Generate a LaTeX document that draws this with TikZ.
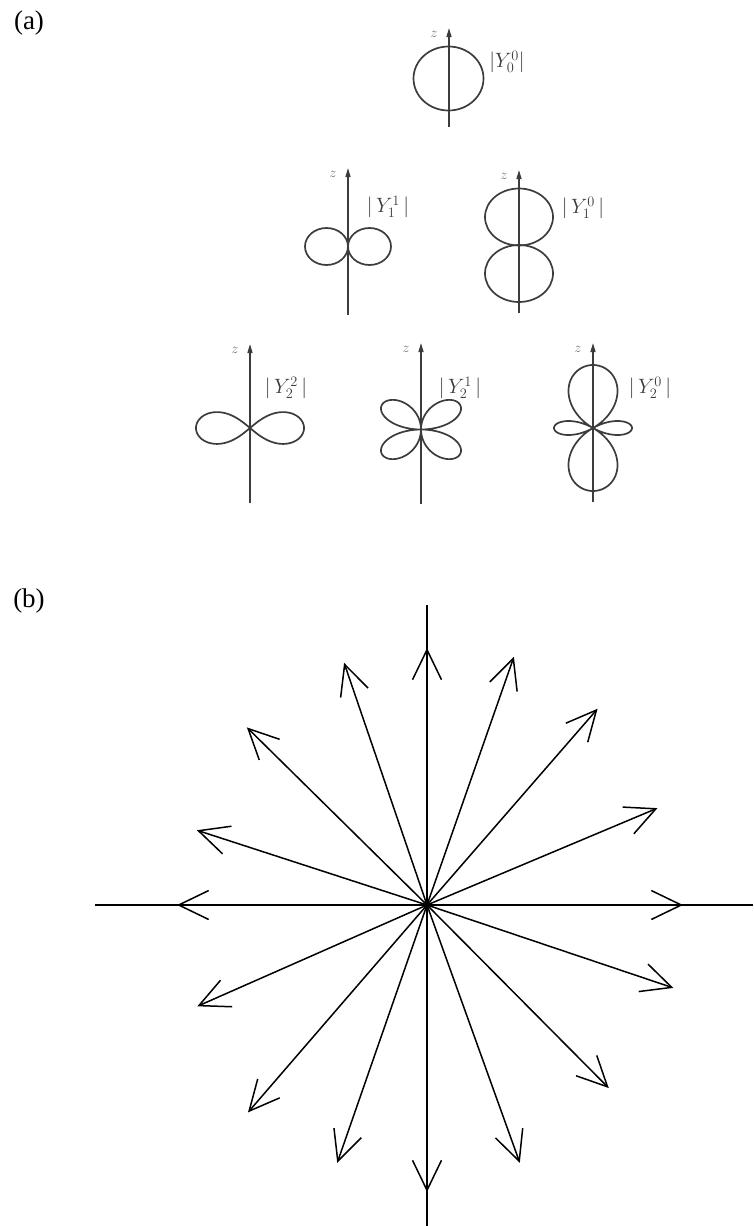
\documentclass[tikz,border=0pt]{standalone}
\usepackage{fontspec}
\setmainfont{Liberation Serif}
\usetikzlibrary{arrows.meta,calc}
\definecolor{scanink}{HTML}{3C3C3C}
\definecolor{scangrey}{HTML}{6A6A6A}

\begin{document}
\begin{tikzpicture}[x=1pt, y=1pt,
    zax/.style={-{Triangle[length=9pt,width=5pt]}, line width=1.4pt, draw=scanink},
    lobe/.style={line width=1.7pt, draw=scanink},
    zlbl/.style={font=\fontsize{14}{16}\selectfont, text=scangrey, inner sep=0pt},
    ylbl/.style={font=\fontsize{20}{24}\selectfont, text=scanink, inner sep=0pt},
    tag/.style={font=\fontsize{27}{31}\selectfont, inner sep=0pt},
    axline/.style={line width=1.7pt},
    ray/.style={-{Straight Barb[length=30pt,width=29pt]}, line width=1.5pt}]
  \useasboundingbox (0,0) rectangle (753,-1226);
  \node[tag] (ta) at (29,-23) {(a)};
  \foreach \name/\x/\top/\bot in {a00/449/28/127, a11/348/168/315, a10/519/170/313, a22/250/344/503, a21/421/343/504, a20/593/343/502}{
    \coordinate (\name-b) at (\x,-\bot);
    \coordinate (\name-t) at (\x,-\top);
    \draw[zax] (\name-b) -- (\name-t);
    \node[zlbl, xshift=-15pt, yshift=-6pt] (\name-z) at (\name-t) {$z$};
  }
  \draw[lobe] (448.5,-78.5) ellipse [x radius=35pt, y radius=32pt];
  \draw[lobe] (326.5,-246.5) ellipse [x radius=21.5pt, y radius=18.5pt];
  \draw[lobe] (369.5,-246.5) ellipse [x radius=21.5pt, y radius=18.5pt];
  \draw[lobe] (519,-217) ellipse [x radius=34pt, y radius=28.5pt];
  \draw[lobe] (519,-273.5) ellipse [x radius=34pt, y radius=28.5pt];
  \draw[lobe, shift={(250,-428)}] plot[variable=\t, domain=0:360, samples=181, smooth]
    ({54*cos(\t)/(1+sin(\t)^2)}, {45*sin(\t)*cos(\t)/(1+sin(\t)^2)});
  \draw[lobe, shift={(421,-429.5)}] plot[variable=\t, domain=0:360, samples=241, smooth]
    ({104*abs(sin(\t)*cos(\t))*sin(\t)}, {77*abs(sin(\t)*cos(\t))*cos(\t)});
  \draw[lobe, shift={(593,-428)}] plot[variable=\t, domain=0:360, samples=241, smooth]
    ({39*abs(3*cos(\t)^2-1)*sin(\t)}, {31.5*abs(3*cos(\t)^2-1)*cos(\t)});
  \node[ylbl] (Y00) at (507,-62) {$|Y_0^0|$};
  \node[ylbl] (Y11) at (388,-207) {$|\,Y_1^1\,|$};
  \node[ylbl] (Y10) at (583,-208) {$|\,Y_1^0\,|$};
  \node[ylbl] (Y22) at (286,-388) {$|\,Y_2^2\,|$};
  \node[ylbl] (Y21) at (460,-388) {$|\,Y_2^1\,|$};
  \node[ylbl] (Y20) at (650,-388) {$|\,Y_2^0\,|$};
  \node[tag] (tb) at (29,-601) {(b)};
  \coordinate (O) at (427,-905);
  \coordinate (hl) at (95,-905);
  \coordinate (hr) at (753,-905);
  \coordinate (vt) at (427,-605);
  \coordinate (vb) at (427,-1226);
  \draw[axline] (hl) -- (hr);
  \draw[axline] (vt) -- (vb);
  \foreach \a/\r [count=\i] in {0/256, 22.8/250, 49/260, 70.7/263, 90/257, 108.9/256, 135.4/253, 162/242, 180/250, 203.8/251, 229.2/274, 250.8/273, 270/287, 289.8/274, 314.8/258, 341.4/260}{
    \coordinate (tip\i) at ($(O)+(\a:\r)$);
    \draw[ray] (O) -- (tip\i);
  }
\end{tikzpicture}
\end{document}
